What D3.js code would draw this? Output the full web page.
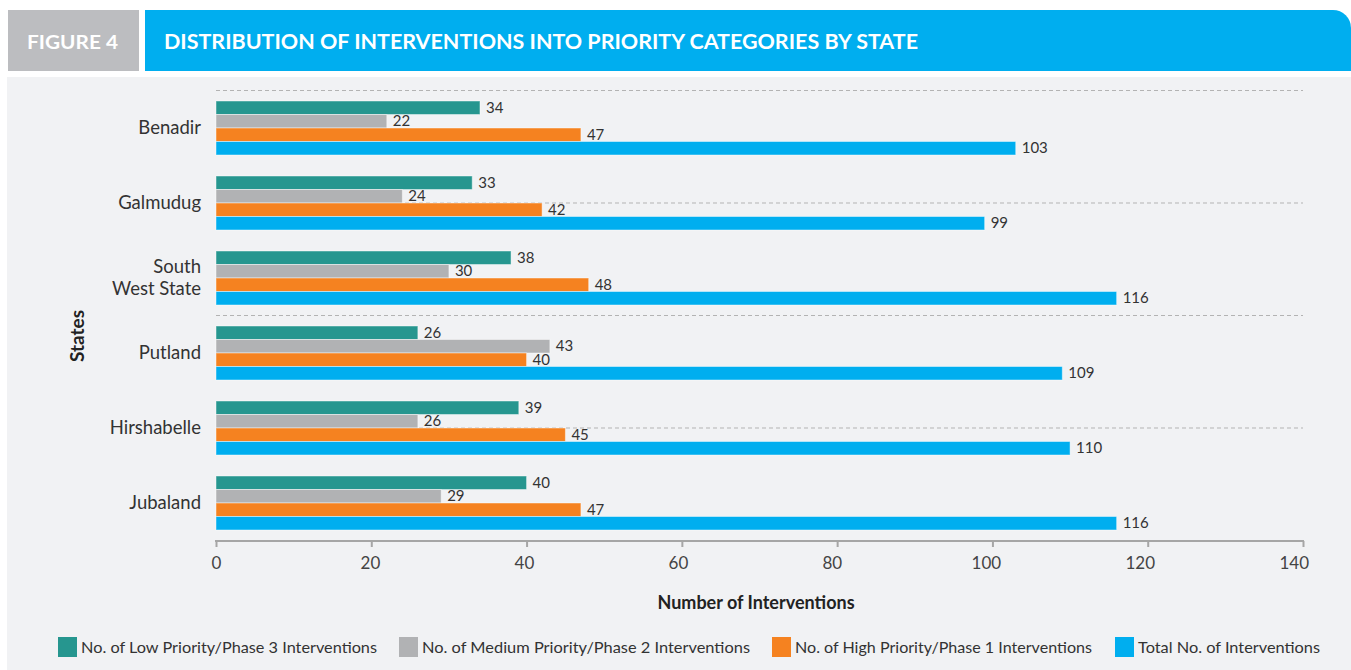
<!DOCTYPE html>
<html><head><meta charset="utf-8">
<script src="https://cdn.jsdelivr.net/npm/d3@7"></script>
<style>body{margin:0;background:#fff;}svg{display:block;font-family:Lato,"Open Sans",sans-serif;}</style>
</head><body>
<svg id="c" width="1351" height="670"></svg>
<script>
const states = ["Benadir","Galmudug","South West State","Putland","Hirshabelle","Jubaland"];
const stateLines = [["Benadir"],["Galmudug"],["South","West State"],["Putland"],["Hirshabelle"],["Jubaland"]];
const seriesNames = ["No. of Low Priority/Phase 3 Interventions","No. of Medium Priority/Phase 2 Interventions","No. of High Priority/Phase 1 Interventions","Total No. of Interventions"];
const lowPriority = [34,33,38,26,39,40];
const mediumPriority = [22,24,30,43,26,29];
const highPriority = [47,42,48,40,45,47];
const totalInterventions = [103,99,116,109,110,116];
const xTicks = [0,20,40,60,80,100,120,140];
const colors = ["#26968f","#b1b2b4","#f58220","#00aeef"];
const seriesValues = [lowPriority,mediumPriority,highPriority,totalInterventions];

const svg = d3.select("#c");
// header
svg.append("rect").attr("x",8).attr("y",10).attr("width",131).attr("height",61).attr("fill","#bcbdc0");
svg.append("text").attr("x",27).attr("y",49).attr("fill","#fff").attr("font-weight",700).attr("font-size",19)
  .attr("textLength",91).attr("lengthAdjust","spacingAndGlyphs").text("FIGURE 4");
const hx=145, hy=10, hw=1206, hh=61, r=18;
svg.append("path").attr("d",`M${hx},${hy} H${hx+hw-r} A${r},${r} 0 0 1 ${hx+hw},${hy+r} V${hy+hh} H${hx} Z`).attr("fill","#00aeef");
svg.append("text").attr("x",164).attr("y",49).attr("fill","#fff").attr("font-weight",700).attr("font-size",20)
  .attr("textLength",754).attr("lengthAdjust","spacingAndGlyphs").text("DISTRIBUTION OF INTERVENTIONS INTO PRIORITY CATEGORIES BY STATE");
// panel
svg.append("rect").attr("x",7).attr("y",77).attr("width",1344).attr("height",593).attr("fill","#f1f2f4");

const x = d3.scaleLinear().domain([0,140]).range([216,1303]);
const y0 = d3.scaleBand().domain(states).range([90.5,540.5]).paddingInner(0.28).paddingOuter(0.14);
const y1 = d3.scaleBand().domain(d3.range(4)).range([0,y0.bandwidth()]);

// dashed gridlines
const gridY = d3.scaleLinear().domain([0,4]).range([90.5,540.5]);
svg.append("g").selectAll("line").data([0,1,2,3]).join("line")
  .attr("x1",216).attr("x2",1303).attr("y1",d=>gridY(d)).attr("y2",d=>gridY(d))
  .attr("stroke","#b3b3b3").attr("stroke-width",1).attr("stroke-dasharray","4,3");

// bars
const groups = svg.append("g").selectAll("g").data(states).join("g")
  .attr("transform",d=>`translate(0,${y0(d)})`);
groups.each(function(s,i){
  const g=d3.select(this);
  const data = seriesValues.map((arr,k)=>({k,v:arr[i]}));
  g.selectAll("rect").data(data).join("rect")
    .attr("x",x(0)).attr("y",d=>y1(d.k)).attr("width",d=>x(d.v)-x(0)).attr("height",y1.bandwidth())
    .attr("fill",d=>colors[d.k]).attr("stroke","rgba(255,255,255,0.45)").attr("stroke-width",1);
  g.selectAll("text.v").data(data).join("text").attr("class","v")
    .attr("x",d=>x(d.v)+6).attr("y",d=>y1(d.k)+y1.bandwidth()/2+5)
    .attr("font-size",15).attr("fill","#333").text(d=>d.v);
});

// category labels
states.forEach((s,i)=>{
  const lines=stateLines[i];
  const cy=y0(s)+y0.bandwidth()/2;
  const t=svg.append("text").attr("text-anchor","end").attr("font-size",18.5).attr("fill","#333");
  lines.forEach((l,j)=>{
    t.append("tspan").attr("x",201).attr("y",cy+6+(j-(lines.length-1)/2)*22).text(l);
  });
});
svg.append("text").attr("transform","translate(84,336) rotate(-90)").attr("text-anchor","middle")
  .attr("font-size",19).attr("font-weight",700).attr("fill","#222").text("States");

// x axis
const ax = svg.append("g").attr("transform","translate(0,541)")
  .call(d3.axisBottom(x).tickValues(xTicks).tickSize(6).tickPadding(10));
ax.select(".domain").attr("stroke","#a6a6a6").attr("stroke-width",2).attr("d","M216,1V0H1303V1");
ax.selectAll(".tick line").attr("stroke","#a6a6a6").attr("stroke-width",2);
ax.selectAll(".tick text").attr("font-size",17).attr("fill","#444").attr("font-family","Lato,sans-serif")
  .attr("dx",d=>-(x(d)-x(0))*0.0085);
svg.append("text").attr("x",756).attr("y",609).attr("text-anchor","middle").attr("font-size",18)
  .attr("font-weight",700).attr("fill","#222").text("Number of Interventions");

// legend
const legX=[58,399,772,1115];
const legW=[296,328,297,182];
seriesNames.forEach((n,k)=>{
  svg.append("rect").attr("x",legX[k]).attr("y",637).attr("width",19).attr("height",20).attr("fill",colors[k]);
  svg.append("text").attr("x",legX[k]+23).attr("y",653).attr("font-size",16).attr("fill","#333")
    .attr("textLength",legW[k]).attr("lengthAdjust","spacingAndGlyphs").text(n);
});
</script>
</body></html>
